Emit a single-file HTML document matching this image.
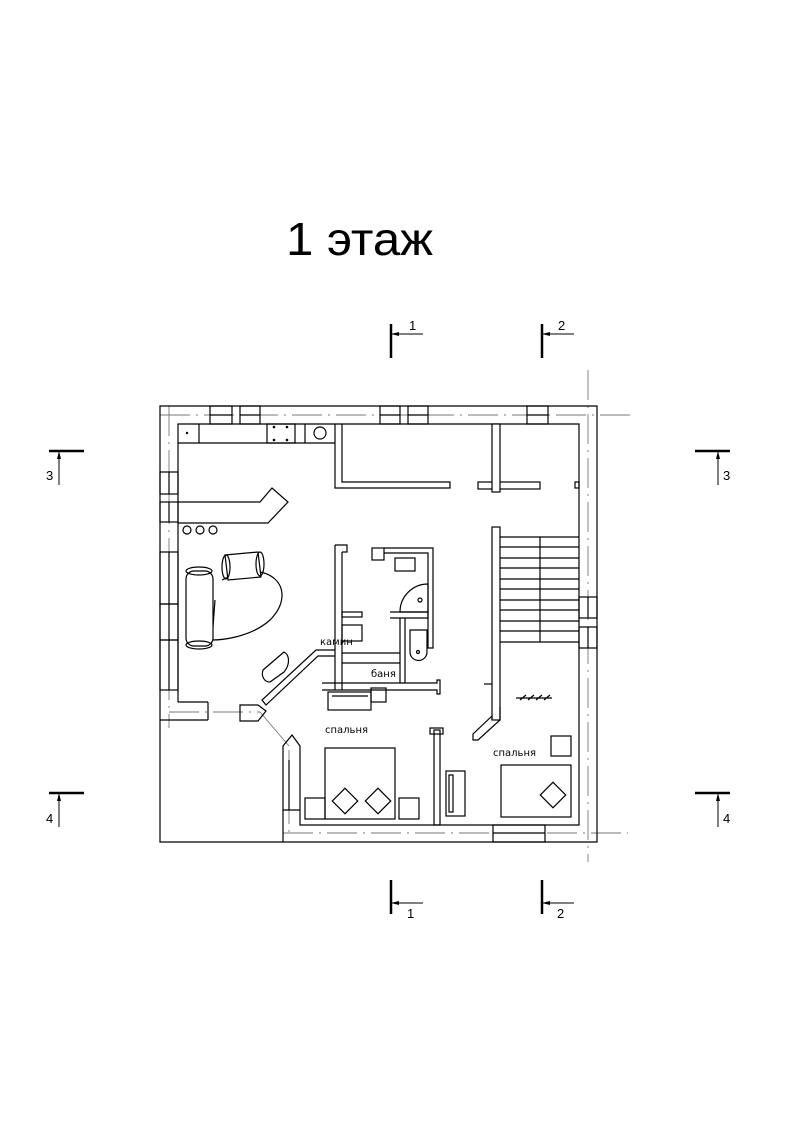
<!DOCTYPE html>
<html><head><meta charset="utf-8"><style>html,body{margin:0;padding:0;background:#fff}svg{display:block}</style></head>
<body>
<svg width="800" height="1131" viewBox="0 0 800 1131" xmlns="http://www.w3.org/2000/svg" font-family="Liberation Sans, DejaVu Sans, sans-serif">
<rect width="800" height="1131" fill="#fff"/>
<text x="286" y="255" font-size="46" textLength="147" lengthAdjust="spacingAndGlyphs">1 этаж</text>
<g stroke="#000" fill="none" stroke-width="1.2">
<g stroke="#777" stroke-width="0.9" stroke-dasharray="30,6,2,6">
<line x1="160" y1="415" x2="630" y2="415"/>
<line x1="588" y1="370" x2="588" y2="862"/>
<line x1="283" y1="833" x2="628" y2="833"/>
<line x1="169" y1="406" x2="169" y2="728"/>
<line x1="169" y1="712" x2="260" y2="712"/>
<line x1="289" y1="750" x2="289" y2="833"/>
</g>
<line x1="260" y1="712" x2="289" y2="746" stroke="#777" stroke-width="0.9"/>
<polyline points="160,720 160,406 597,406 597,842 160,842 160,720"/>
<polyline points="178,702 178,424 579,424 579,825 300,825 300,760"/>
<line x1="160" y1="720" x2="208" y2="720"/>
<line x1="178" y1="702" x2="208" y2="702"/>
<line x1="208" y1="702" x2="208" y2="720"/>
<line x1="283" y1="842" x2="283" y2="760"/>
<polyline points="283,760 283,746 292,735 300,746 300,760"/>
<line x1="289" y1="760" x2="289" y2="810"/>
<line x1="283" y1="810" x2="300" y2="810"/>
<g>
<rect x="210" y="406" width="22" height="18"/><line x1="210" y1="415" x2="232" y2="415"/>
<rect x="240" y="406" width="20" height="18"/><line x1="240" y1="415" x2="260" y2="415"/>
<rect x="380" y="406" width="20" height="18"/><line x1="380" y1="415" x2="400" y2="415"/>
<rect x="408" y="406" width="20" height="18"/><line x1="408" y1="415" x2="428" y2="415"/>
<rect x="527" y="406" width="21" height="18"/><line x1="527" y1="415" x2="548" y2="415"/>
<rect x="160" y="472" width="18" height="22"/><line x1="169" y1="472" x2="169" y2="494"/>
<rect x="160" y="502" width="18" height="20"/><line x1="169" y1="502" x2="169" y2="522"/>
<rect x="160" y="552" width="18" height="52"/><line x1="169" y1="552" x2="169" y2="604"/>
<rect x="160" y="604" width="18" height="36"/><line x1="169" y1="604" x2="169" y2="640"/>
<rect x="160" y="640" width="18" height="50"/><line x1="169" y1="640" x2="169" y2="690"/>
<rect x="579" y="597" width="18" height="21"/><line x1="588" y1="597" x2="588" y2="618"/>
<rect x="579" y="627" width="18" height="21"/><line x1="588" y1="627" x2="588" y2="648"/>
<rect x="493" y="825" width="52" height="17"/><line x1="493" y1="833" x2="545" y2="833"/>
</g>
<polyline points="178,443 335,443"/>
<line x1="199" y1="424" x2="199" y2="443"/>
<rect x="267" y="424" width="28" height="19"/>
<line x1="305" y1="424" x2="305" y2="443"/>
<circle cx="320" cy="433" r="6"/>
<g fill="#000" stroke="none"><circle cx="274" cy="427" r="1.3"/><circle cx="287" cy="427" r="1.3"/><circle cx="274" cy="440" r="1.3"/><circle cx="287" cy="440" r="1.3"/><circle cx="187" cy="433" r="1.2"/></g>
<polyline points="335,424 335,488 450,488 450,482 342,482 342,424"/>
<rect x="478" y="482" width="62" height="7"/>
<rect x="492" y="424" width="8" height="68" fill="#fff"/>
<rect x="575" y="482" width="4" height="6"/>
<polyline points="178,502 260,502 272,488 288,502 268,523 178,523"/>
<circle cx="187" cy="530" r="4"/><circle cx="200" cy="530" r="4"/><circle cx="213" cy="530" r="4"/>
<path d="M222,580 C270,555 300,590 270,620 C250,638 220,640 212,640 L215,600"/>
<rect x="186" y="571" width="27" height="75" rx="8" fill="#fff"/>
<ellipse cx="199" cy="571" rx="13" ry="4"/><ellipse cx="199" cy="645" rx="13" ry="4"/>
<path d="M225,555 L258,552 L261,577 L228,580 Z" fill="#fff"/>
<ellipse cx="226" cy="567" rx="4" ry="12"/><ellipse cx="260" cy="564" rx="4" ry="12"/>
<polyline points="335,545 335,690"/><polyline points="342,552 342,690"/>
<polyline points="335,545 347,545 347,552 342,552"/>
<rect x="372" y="548" width="12" height="12"/>
<polyline points="384,548 433,548 433,648 428,648 428,553 384,553"/>
<rect x="395" y="558" width="20" height="13"/>
<path d="M400,612 A28,28 0 0 1 428,584 L428,612 Z"/>
<circle cx="420" cy="600" r="2"/>
<polyline points="390,612 428,612 428,618 390,618 Z"/>
<rect x="342" y="612" width="20" height="5"/>
<line x1="400" y1="618" x2="400" y2="683"/><line x1="405" y1="618" x2="405" y2="683"/>
<path d="M410,630 h17 v22 a8.5,8.5 0 0 1 -17,0 Z"/><circle cx="418" cy="652" r="1.5"/>
<rect x="342" y="625" width="20" height="16"/>
<line x1="342" y1="653" x2="400" y2="653"/><line x1="342" y1="663" x2="400" y2="663"/>
<polyline points="335,650 316,650 262,700 266,705 318,656 335,656"/>
<path d="M263,670 L284,652 C290,655 290,665 284,672 L270,682 C264,682 261,676 263,670 Z"/>
<polyline points="322,683 437,683 437,680 440,680 440,694 437,694 437,690 322,690 Z"/>
<rect x="328" y="692" width="43" height="18"/><line x1="332" y1="696" x2="368" y2="696"/>
<rect x="371" y="688" width="15" height="14"/>
<polygon points="240,705 258,705 266,711 258,721 240,721"/>
<rect x="434" y="730" width="6" height="95"/>
<rect x="430" y="728" width="13" height="6"/>
<rect x="492" y="527" width="8" height="193" fill="#fff"/>
<line x1="500" y1="537" x2="579" y2="537"/><line x1="540" y1="537" x2="540" y2="642"/>
<line x1="500" y1="547" x2="579" y2="547"/><line x1="500" y1="558" x2="579" y2="558"/>
<line x1="500" y1="568" x2="579" y2="568"/><line x1="500" y1="579" x2="579" y2="579"/>
<line x1="500" y1="589" x2="579" y2="589"/><line x1="500" y1="600" x2="579" y2="600"/>
<line x1="500" y1="610" x2="579" y2="610"/><line x1="500" y1="621" x2="579" y2="621"/>
<line x1="500" y1="631" x2="579" y2="631"/><line x1="500" y1="642" x2="579" y2="642"/>
<polyline points="484,684 492,684 M484,684 484,690 492,690 M500,684 579,684 M500,690 579,690 M500,707 579,707"/>
<polyline points="500,707 500,720 478,740 473,740 473,734 492,716 492,720"/>
<path d="M520,700 l6,-5 M528,700 l6,-5 M536,700 l6,-5 M544,700 l6,-5 M516,698 h36"/>
<rect x="325" y="748" width="70" height="71"/>
<rect x="305" y="798" width="20" height="21"/>
<rect x="399" y="798" width="20" height="21"/>
<rect x="336" y="792" width="18" height="18" transform="rotate(45 345 801)"/>
<rect x="369" y="792" width="18" height="18" transform="rotate(45 378 801)"/>
<rect x="446" y="771" width="19" height="45"/><rect x="449" y="775" width="4" height="37"/>
<rect x="551" y="736" width="20" height="20"/>
<rect x="501" y="765" width="70" height="52"/>
<rect x="544" y="786" width="18" height="18" transform="rotate(45 553 795)"/>
</g>
<g font-size="10" font-family="DejaVu Sans, Liberation Sans, sans-serif">
<text x="320" y="645">камин</text>
<text x="371" y="677">баня</text>
<text x="325" y="733">спальня</text>
<text x="493" y="756">спальня</text>
</g>
<g stroke="#000">
<line x1="391" y1="324" x2="391" y2="358" stroke-width="2.5"/><line x1="391" y1="334" x2="423" y2="334" stroke-width="1"/>
<line x1="542" y1="324" x2="542" y2="358" stroke-width="2.5"/><line x1="542" y1="334" x2="574" y2="334" stroke-width="1"/>
<line x1="391" y1="880" x2="391" y2="914" stroke-width="2.5"/><line x1="391" y1="903" x2="423" y2="903" stroke-width="1"/>
<line x1="542" y1="880" x2="542" y2="914" stroke-width="2.5"/><line x1="542" y1="903" x2="574" y2="903" stroke-width="1"/>
<line x1="49" y1="451" x2="84" y2="451" stroke-width="2.5"/><line x1="59" y1="451" x2="59" y2="485" stroke-width="1"/>
<line x1="695" y1="451" x2="730" y2="451" stroke-width="2.5"/><line x1="718" y1="451" x2="718" y2="485" stroke-width="1"/>
<line x1="49" y1="793" x2="84" y2="793" stroke-width="2.5"/><line x1="59" y1="793" x2="59" y2="827" stroke-width="1"/>
<line x1="695" y1="793" x2="730" y2="793" stroke-width="2.5"/><line x1="718" y1="793" x2="718" y2="827" stroke-width="1"/>
</g>
<g fill="#000">
<polygon points="391,334 399,332 399,336"/><polygon points="542,334 550,332 550,336"/>
<polygon points="391,903 399,901 399,905"/><polygon points="542,903 550,901 550,905"/>
<polygon points="59,451 57,459 61,459"/><polygon points="718,451 716,459 720,459"/>
<polygon points="59,793 57,801 61,801"/><polygon points="718,793 716,801 720,801"/>
</g>
<g font-size="13">
<text x="409" y="330">1</text><text x="558" y="330">2</text>
<text x="407" y="918">1</text><text x="557" y="918">2</text>
<text x="46" y="480">3</text><text x="723" y="480">3</text>
<text x="46" y="823">4</text><text x="723" y="823">4</text>
</g>
</svg>
</body></html>
